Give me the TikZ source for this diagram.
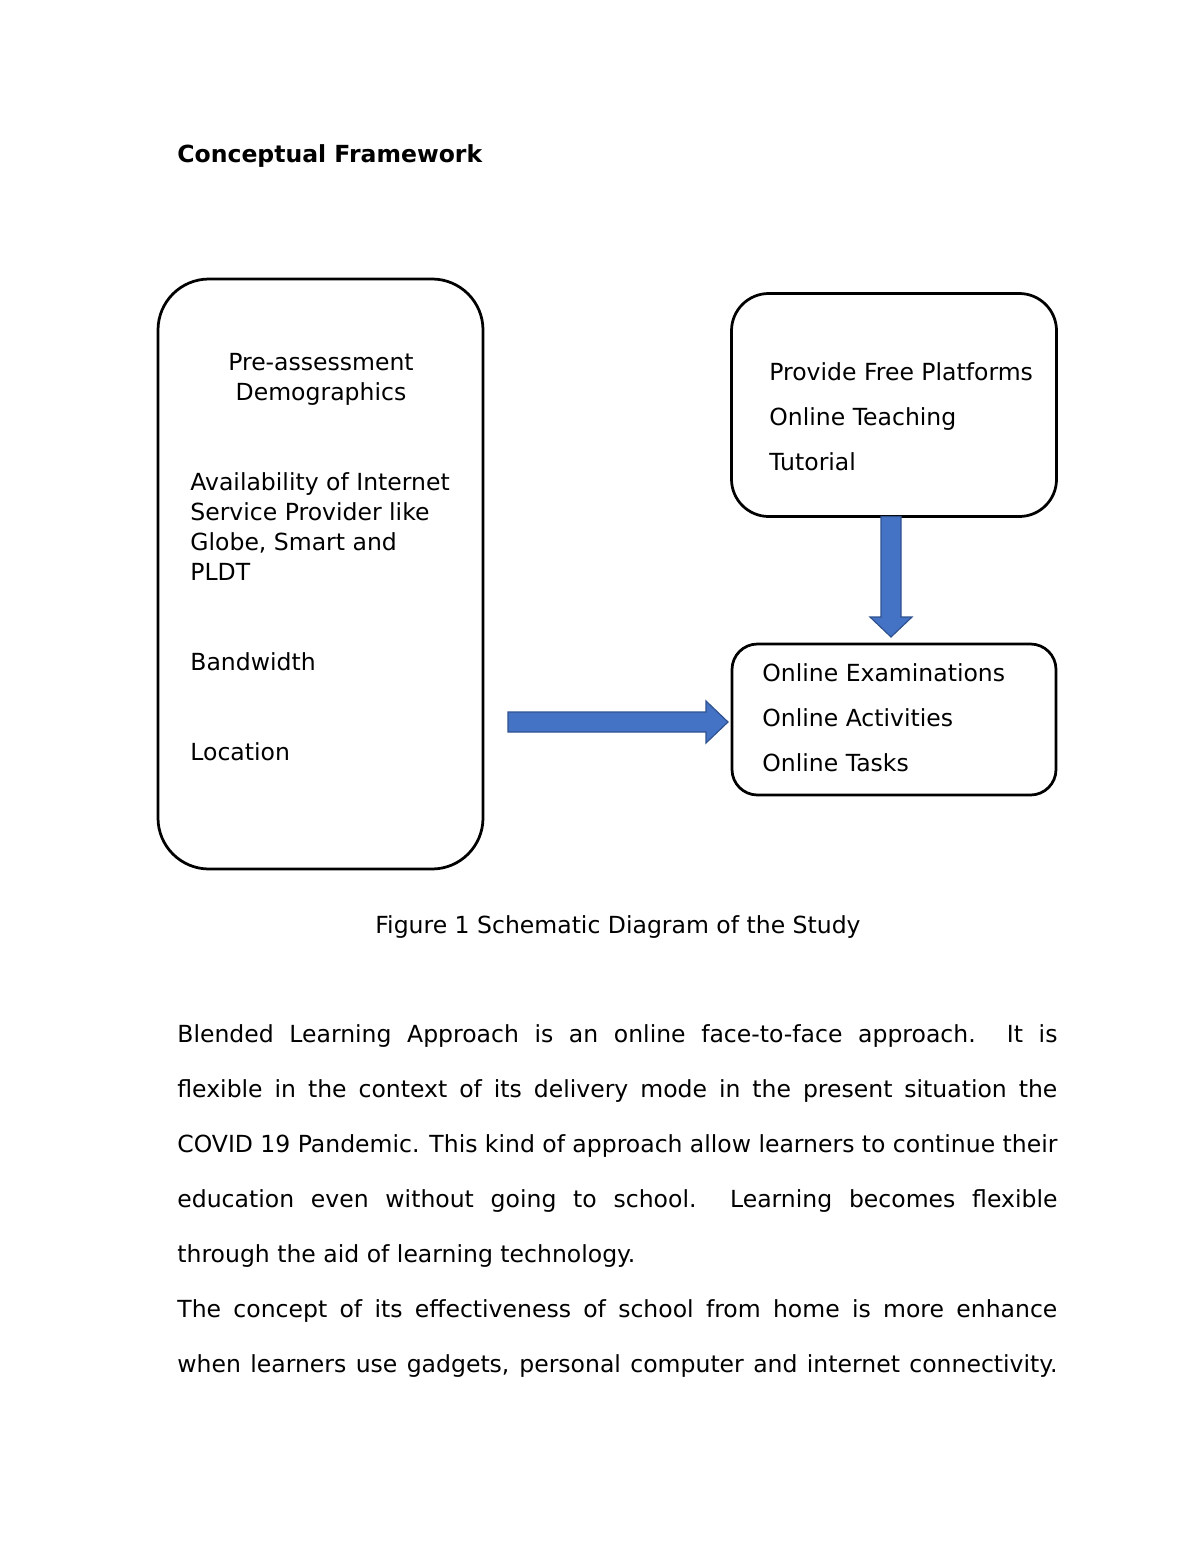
\documentclass[tikz,border=0pt]{standalone}
\usepackage{fontspec}
\setmainfont{DejaVu Sans}
\usepackage{xcolor}
\usetikzlibrary{calc}
\definecolor{arrowfill}{HTML}{4472C4}
\definecolor{arrowline}{HTML}{2F528F}
\tikzset{
	roundbox/.style={draw,line width=1.4pt,inner sep=0pt,outer sep=0pt},
	txtline/.style={anchor=base west,inner sep=0pt,font=\fontsize{12}{14}\selectfont},
	blockarrow/.style={fill=arrowfill,draw=arrowline,line width=0.6pt,line join=miter}
}

\begin{document}
\begin{tikzpicture}[x=0.51pt,y=-0.51pt]
			\useasboundingbox (0,0) rectangle (1200,1553);
			\fill[white] (0,0) rectangle (1200,1553);

			\node[txtline,font=\fontsize{12}{14}\selectfont\bfseries] (title) at (177,163) {Conceptual Framework};

			\node[roundbox,rounded corners=26pt,minimum width=325*0.51pt,minimum height=590*0.51pt] (factors) at (320.5,574) {};
			\node[roundbox,rounded corners=19pt,minimum width=325*0.51pt,minimum height=223*0.51pt] (support) at (894,405) {};
			\node[roundbox,rounded corners=13pt,minimum width=324*0.51pt,minimum height=151*0.51pt] (online) at (894,719.5) {};

			\node[txtline,anchor=base] (pre) at (321,370) {Pre-assessment};
			\node[txtline,anchor=base] (demo) at (321,400) {Demographics};
			\foreach \txt [count=\i from 0] in {Availability of Internet,Service Provider like,{Globe, Smart and},PLDT}
				\node[txtline] (isp\i) at (190,490+30*\i) {\txt};
			\node[txtline] (band) at (190,670) {Bandwidth};
			\node[txtline] (loc) at (190,760) {Location};

			\foreach \txt [count=\i from 0] in {Provide Free Platforms,Online Teaching,Tutorial}
				\node[txtline] (sup\i) at (769,380+45*\i) {\txt};
			\foreach \txt [count=\i from 0] in {Online Examinations,Online Activities,Online Tasks}
				\node[txtline] (onl\i) at (762,681+45*\i) {\txt};

			\coordinate (dtop) at ($(support.south)+(-3,0)$);
			\coordinate (dtip) at ($(online.north)+(-3,-7)$);
			\draw[blockarrow] ($(dtop)+(-10,0)$) -- ($(dtip)+(-10,-20)$) -- ($(dtip)+(-21,-20)$) -- (dtip)
				-- ($(dtip)+(21,-20)$) -- ($(dtip)+(10,-20)$) -- ($(dtop)+(10,0)$) -- cycle;

			\coordinate (rtip) at ($(online.west)+(-4,2.5)$);
			\coordinate (rtail) at (508,722);
			\draw[blockarrow] ($(rtail)+(0,-10)$) -- ($(rtip)+(-22,-10)$) -- ($(rtip)+(-22,-21)$) -- (rtip)
				-- ($(rtip)+(-22,21)$) -- ($(rtip)+(-22,10)$) -- ($(rtail)+(0,10)$) -- cycle;

			\node[txtline,anchor=base] (caption) at (618,933) {Figure 1 Schematic Diagram of the Study};

			\node[anchor=north west,inner sep=0pt,text width=880*0.51pt,align=justify,font=\fontsize{12}{28.05}\selectfont] (body) at (177,1022.4)
			{
				\parindent=0pt\hyphenpenalty=10000\exhyphenpenalty=10000
				\rule{0pt}{10pt}Blended Learning Approach is an online face-to-face approach.\ \ It is\linebreak
				flexible in the context of its delivery mode in the present situation the\linebreak
				COVID 19 Pandemic. This kind of approach allow learners to continue their\linebreak
				education even without going to school.\ \ Learning becomes flexible\linebreak
				through the aid of learning technology.\par
				The concept of its effectiveness of school from home is more enhance\linebreak
				when learners use gadgets, personal computer and internet connectivity.\parfillskip=0pt\par
			};
		\end{tikzpicture}
\end{document}
